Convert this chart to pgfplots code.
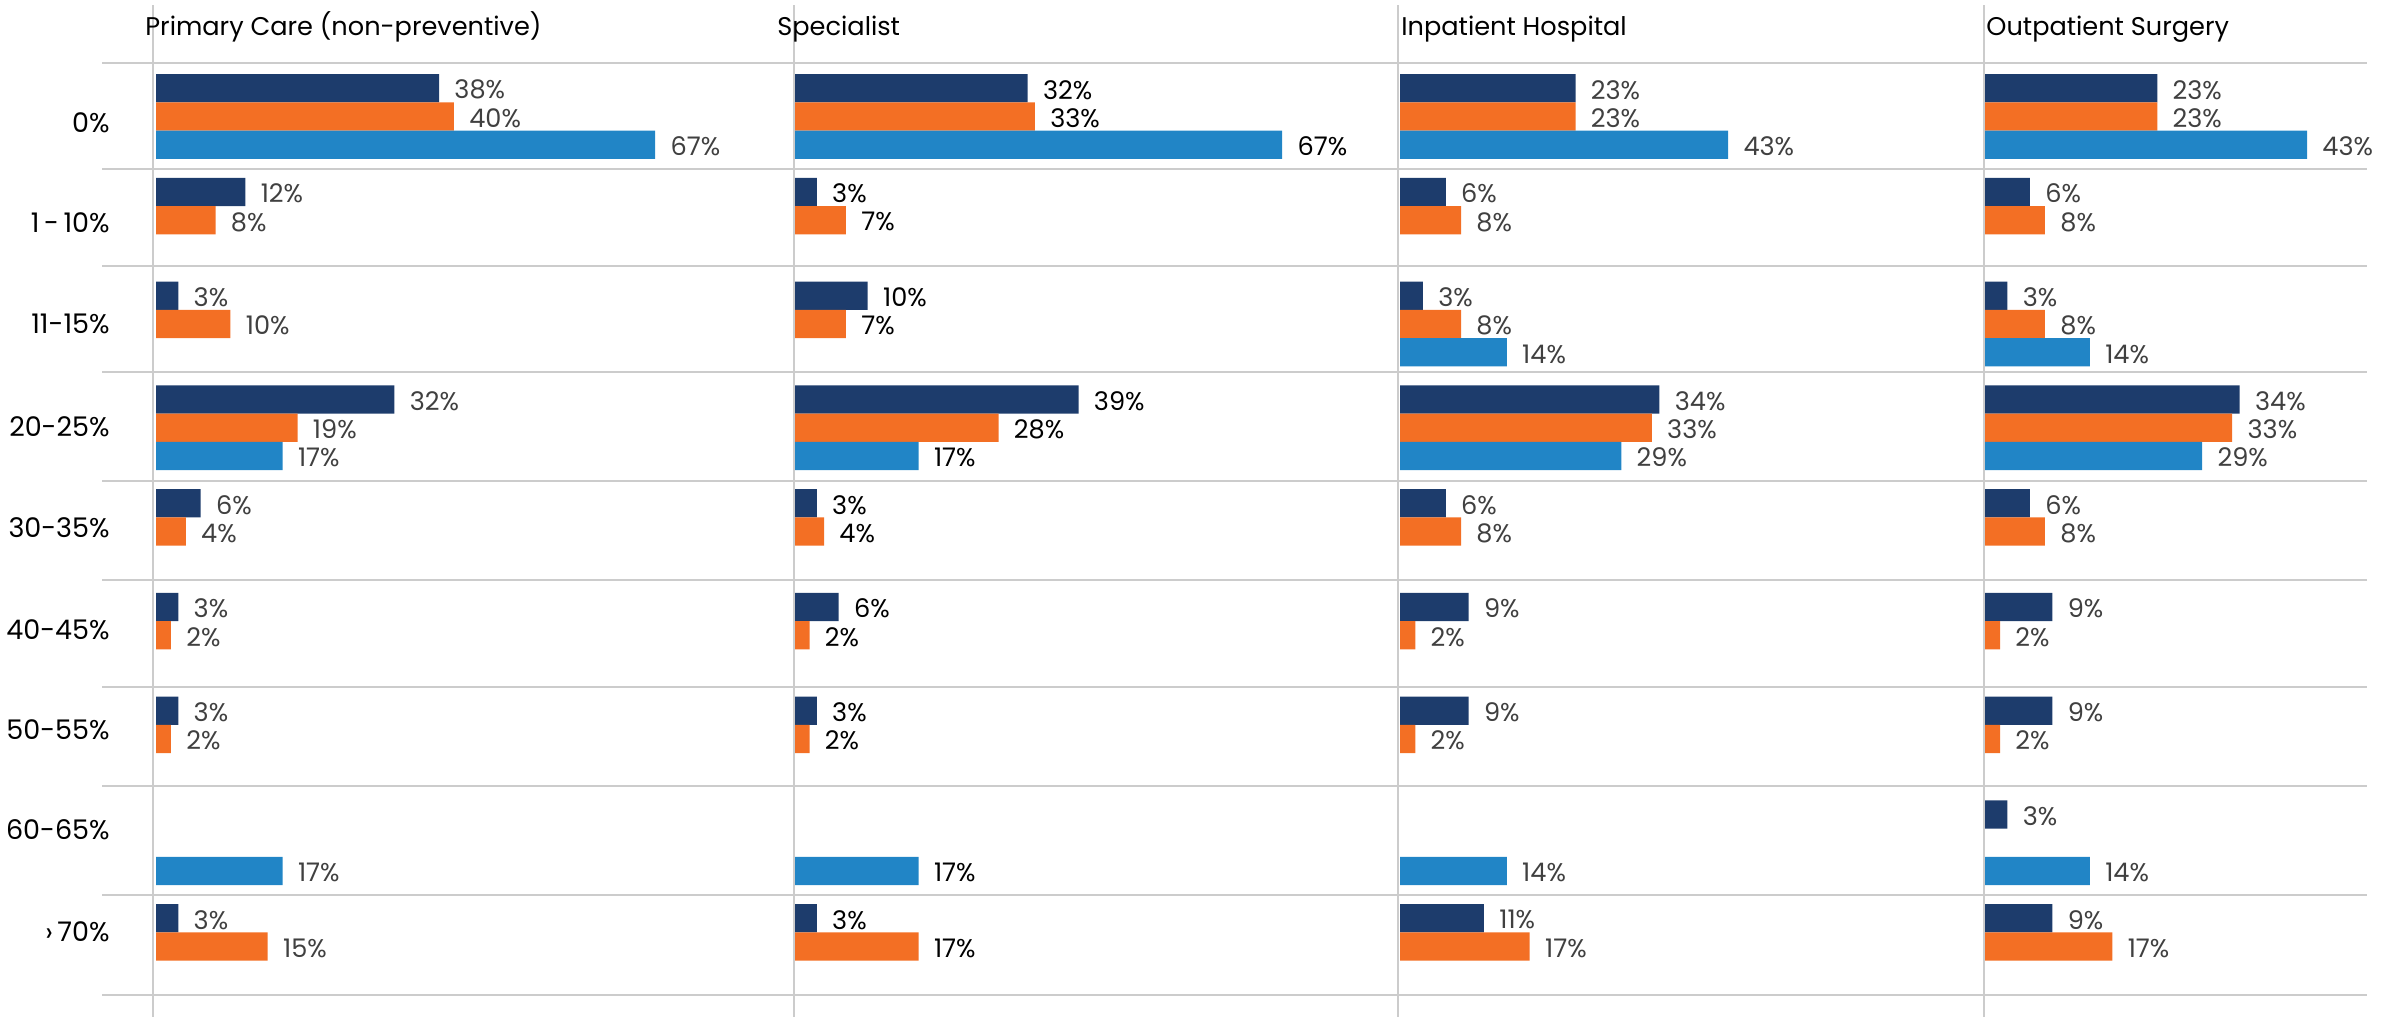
\documentclass[border=0pt]{standalone}
\usepackage{fontspec}
\setmainfont{Poppins}
\usepackage{pgfplots}
\pgfplotsset{compat=1.18}
\definecolor{cnavy}{HTML}{1D3C6C}
\definecolor{corange}{HTML}{F36F24}
\definecolor{cblue}{HTML}{2185C6}
\definecolor{cgrid}{HTML}{CCCCCC}
\definecolor{clab}{HTML}{404040}
\pgfplotsset{
  panel/.style={
    xbar, scale only axis, anchor=north west,
    height=508.5pt, ymin=-1.1229, ymax=8.6795, y dir=reverse,
    xmin=0, axis line style={draw=none}, xtick=\empty, ytick=\empty,
    major tick length=0pt,
    clip=false, bar width=14.15pt,
    point meta=x,
    /pgf/number format/assume math mode=true,
    nodes near coords={\pgfmathprintnumber{\pgfplotspointmeta}\%},
    every node near coord/.append style={anchor=west, inner sep=0pt, xshift=7.5pt, yshift=-0.8pt,
      font=\fontsize{12.8}{14}\selectfont, text=clab},
  },
  snavy/.style={fill=cnavy, draw=none, bar shift=14.15pt},
  sorange/.style={fill=corange, draw=none, bar shift=0pt},
  sblue/.style={fill=cblue, draw=none, bar shift=-14.15pt},
}
\begin{document}
\begin{tikzpicture}
\path[use as bounding box] (0pt,0pt) rectangle (1199pt,-508.5pt);
% horizontal rules
\foreach \yy in {31.5,84.5,133,186,240.5,290,343.5,393,447.5,497.5}
  \draw[cgrid, line width=0.8pt] (51pt,-\yy pt) -- (1183.5pt,-\yy pt);
% vertical rules
\foreach \xx in {76.5,397,699,992}
  \draw[cgrid, line width=0.8pt] (\xx pt,-2.5pt) -- (\xx pt,-508.5pt);
% titles
\foreach \xx/\tt in {72.5/{Primary Care (non-preventive)},388.5/{Specialist},700.5/{Inpatient Hospital},993/{Outpatient Surgery}}
  \node[anchor=base west, inner sep=0pt, font=\fontsize{12.8}{15}\selectfont] at (\xx pt,-17.5pt) {\tt};

% Panel 1: Primary Care
\begin{axis}[panel, at={(78pt,0pt)}, width=319pt, xmax=85.64,
  ytick={0.0627,1.0265,2.0000,2.9928,3.9663,4.9494,5.9133,6.8771,7.8602},
  yticklabels={0\%,1\,-\,10\%,11-15\%,20-25\%,30-35\%,40-45\%,50-55\%,60-65\%,›\,70\%},
  yticklabel style={anchor=east, inner sep=0pt, xshift=-23pt, font=\fontsize{13.5}{16}\selectfont, text=black}]
\addplot[snavy] coordinates {(38,0) (12,1) (3,2) (32,3) (6,4) (3,5) (3,6) (3,8)};
\addplot[sorange] coordinates {(40,0) (8,1) (10,2) (19,3) (4,4) (2,5) (2,6) (15,8)};
\addplot[sblue] coordinates {(67,0) (17,3) (17,7)};
\end{axis}

% Panel 2: Specialist
\begin{axis}[panel, at={(397.5pt,0pt)}, width=301.5pt, xmax=82.94,
  every node near coord/.append style={text=black}]
\addplot[snavy] coordinates {(32,0) (3,1) (10,2) (39,3) (3,4) (6,5) (3,6) (3,8)};
\addplot[sorange] coordinates {(33,0) (7,1) (7,2) (28,3) (4,4) (2,5) (2,6) (17,8)};
\addplot[sblue] coordinates {(67,0) (17,3) (17,7)};
\end{axis}

% Panel 3: Inpatient Hospital
\begin{axis}[panel, at={(700pt,0pt)}, width=292pt, xmax=76.54]
\addplot[snavy] coordinates {(23,0) (6,1) (3,2) (34,3) (6,4) (9,5) (9,6) (11,8)};
\addplot[sorange] coordinates {(23,0) (8,1) (8,2) (33,3) (8,4) (2,5) (2,6) (17,8)};
\addplot[sblue] coordinates {(43,0) (14,2) (29,3) (14,7)};
\end{axis}

% Panel 4: Outpatient Surgery
\begin{axis}[panel, at={(992.5pt,0pt)}, width=191pt, xmax=51.0]
\addplot[snavy] coordinates {(23,0) (6,1) (3,2) (34,3) (6,4) (9,5) (9,6) (3,7) (9,8)};
\addplot[sorange] coordinates {(23,0) (8,1) (8,2) (33,3) (8,4) (2,5) (2,6) (17,8)};
\addplot[sblue] coordinates {(43,0) (14,2) (29,3) (14,7)};
\end{axis}
\end{tikzpicture}
\end{document}
